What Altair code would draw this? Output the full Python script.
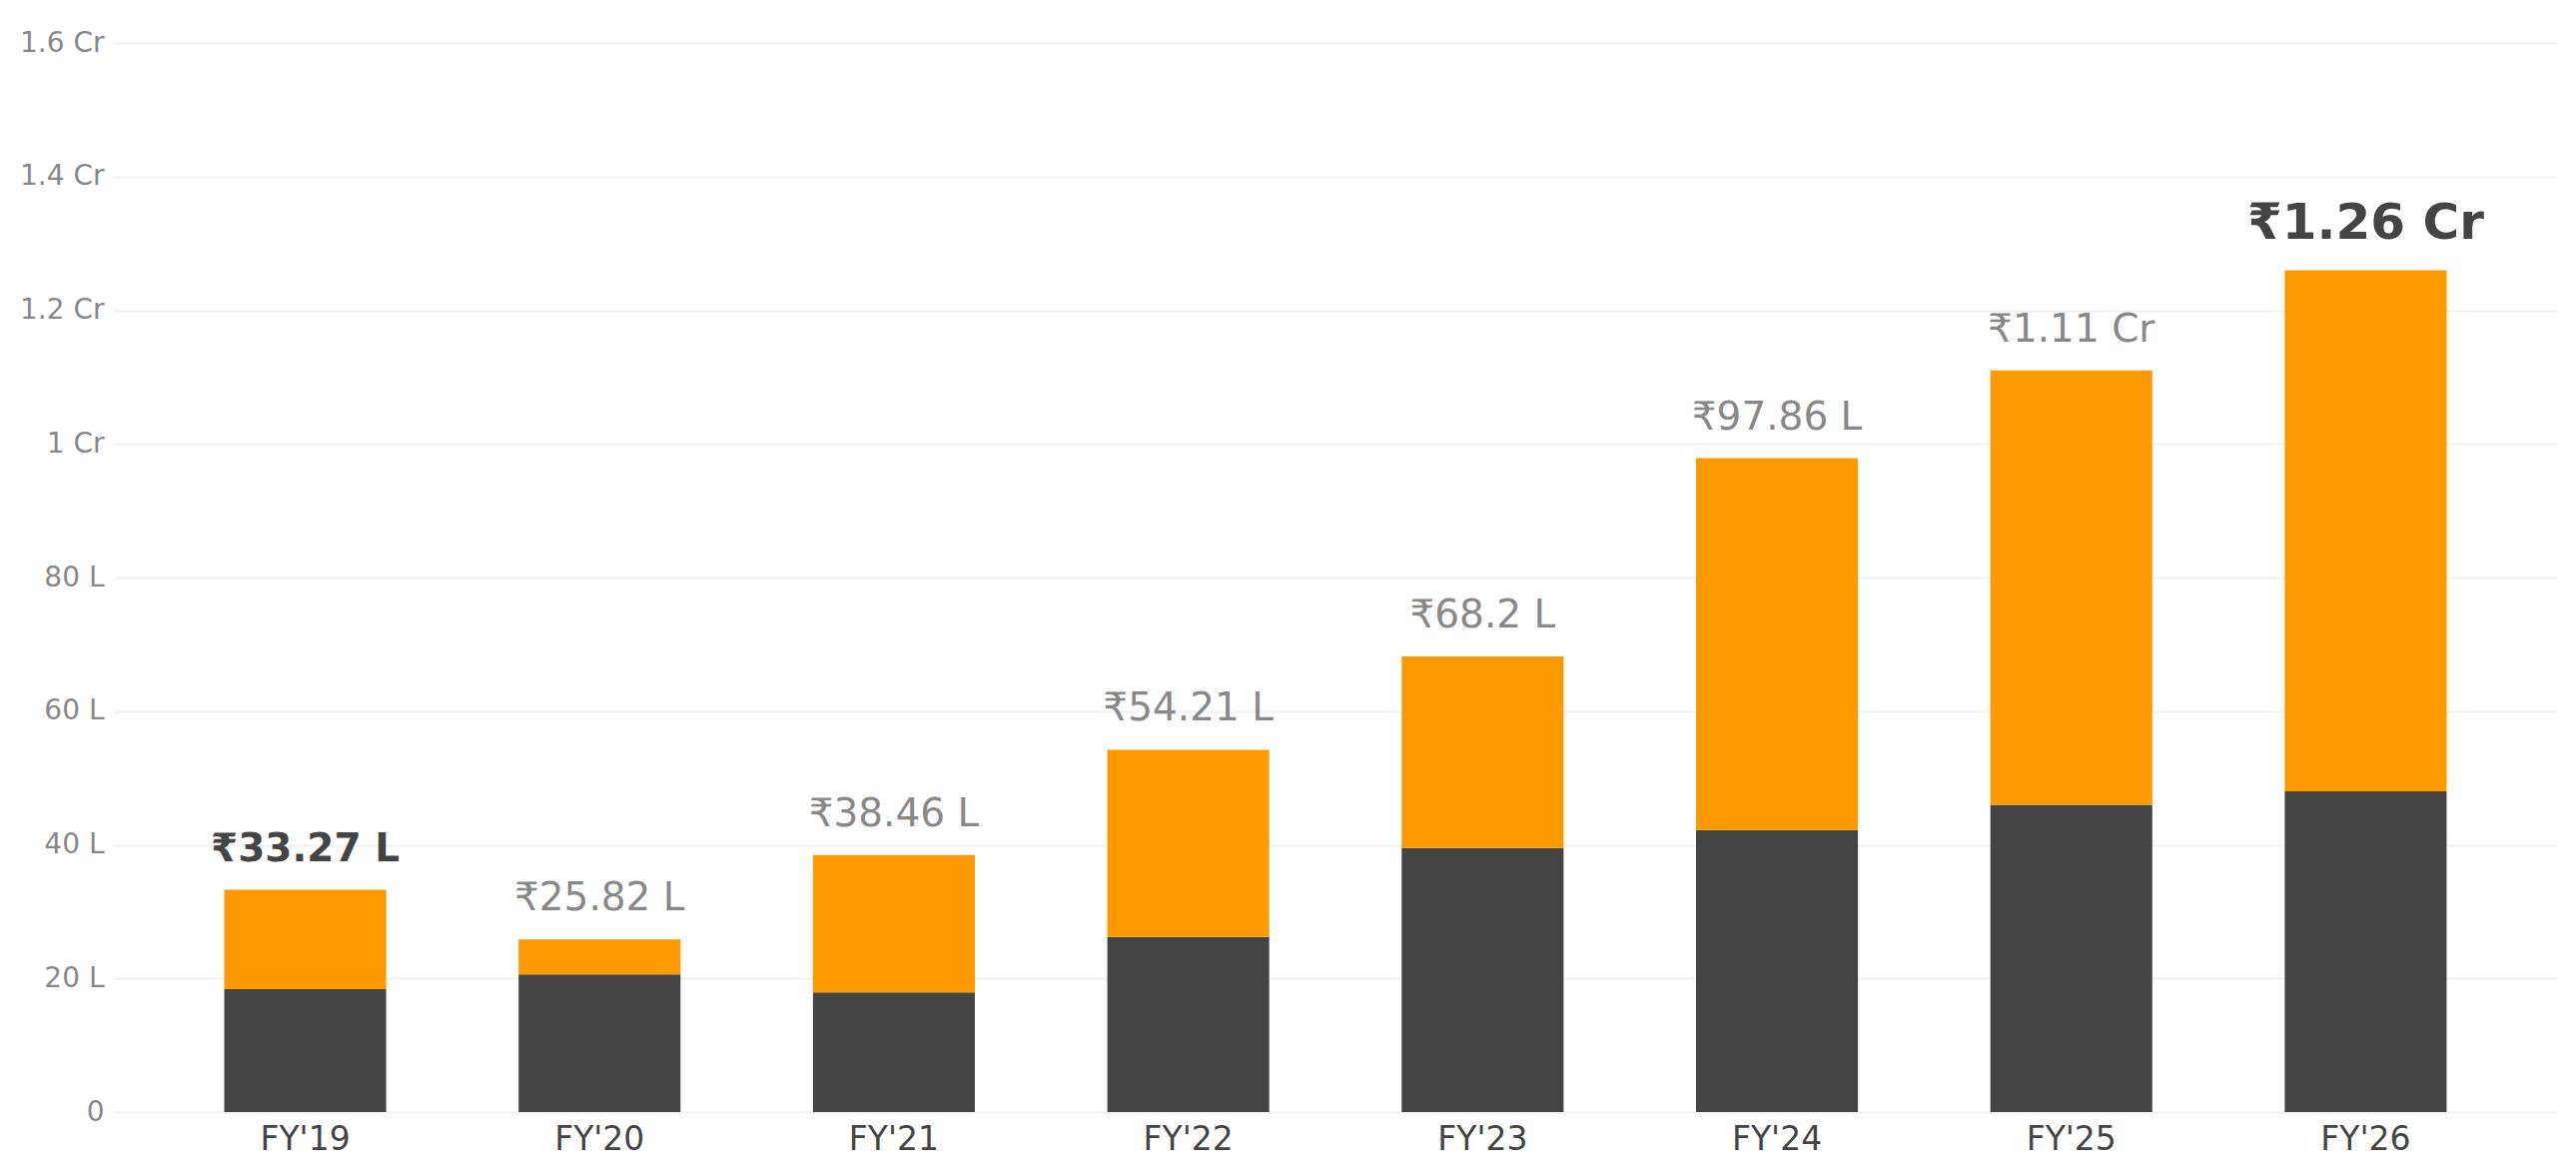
import altair as alt
import pandas as pd

years = ["FY'19", "FY'20", "FY'21", "FY'22", "FY'23", "FY'24", "FY'25", "FY'26"]
totals_l = [33.27, 25.82, 38.46, 54.21, 68.2, 97.86, 111.0, 126.0]
base_l = [18.4, 20.6, 17.9, 26.2, 39.5, 42.2, 46.0, 48.0]
total_labels = ["₹33.27 L", "₹25.82 L", "₹38.46 L", "₹54.21 L", "₹68.2 L", "₹97.86 L", "₹1.11 Cr", "₹1.26 Cr"]
series_names = ["Base", "Growth"]
y_ticks = [0, 20, 40, 60, 80, 100, 120, 140, 160]

DARK = "#444444"
ORANGE = "#FF9900"
GREY = "#888888"
FONT = "DejaVu Sans"

rows = []
for i, y in enumerate(years):
    rows.append({"year": y, "series": series_names[0], "value": base_l[i], "ord": 0})
    rows.append({"year": y, "series": series_names[1], "value": round(totals_l[i] - base_l[i], 2), "ord": 1})
bars_df = pd.DataFrame(rows)

labels_df = pd.DataFrame({
    "year": years,
    "total": totals_l,
    "label": total_labels,
    "idx": list(range(len(years))),
})

x_enc = alt.X(
    "year:N",
    sort=years,
    title=None,
    scale=alt.Scale(paddingInner=0.45, paddingOuter=0.375),
    axis=alt.Axis(
        labelAngle=0,
        labelFont=FONT,
        labelFontSize=33,
        labelColor=DARK,
        labelPadding=11,
        ticks=False,
        domain=False,
        grid=False,
    ),
)

bars = alt.Chart(bars_df).mark_bar().encode(
    x=x_enc,
    y=alt.Y(
        "sum(value):Q",
        stack="zero",
        title=None,
        scale=alt.Scale(domain=[0, 160], nice=False),
        axis=alt.Axis(
            values=y_ticks,
            labelExpr="datum.value == 0 ? '0' : (datum.value >= 100 ? (datum.value / 100) + ' Cr' : datum.value + ' L')",
            labelFont=FONT,
            labelFontSize=28,
            labelColor=GREY,
            labelPadding=10,
            ticks=False,
            domain=False,
            grid=True,
            gridColor="#f2f2f2",
            gridWidth=2,
        ),
    ),
    color=alt.Color(
        "series:N",
        scale=alt.Scale(domain=series_names, range=[DARK, ORANGE]),
        legend=None,
    ),
    order=alt.Order("ord:Q", sort="ascending"),
)

base_text = alt.Chart(labels_df).encode(
    x=alt.X("year:N", sort=years),
    y=alt.Y("total:Q"),
    text="label:N",
)

first_text = base_text.transform_filter("datum.idx == 0").mark_text(
    font=FONT, fontSize=39, fontWeight="bold", color=DARK,
    baseline="alphabetic", dy=-29,
)
mid_text = base_text.transform_filter("datum.idx > 0 && datum.idx < 7").mark_text(
    font=FONT, fontSize=39, fontWeight="normal", color=GREY,
    baseline="alphabetic", dy=-29,
)
last_text = base_text.transform_filter("datum.idx == 7").mark_text(
    font=FONT, fontSize=50, fontWeight="bold", color=DARK,
    baseline="alphabetic", dy=-31,
)

chart = alt.layer(bars, first_text, mid_text, last_text).properties(
    width=2446,
    height=1070,
    background="white",
    autosize=alt.AutoSizeParams(type="none"),
    padding={"left": 106, "top": 35, "right": 10, "bottom": 60},
).configure_view(strokeWidth=0, strokeOpacity=0)

chart.save("out.html", embed_options={"renderer": "svg", "actions": False})
